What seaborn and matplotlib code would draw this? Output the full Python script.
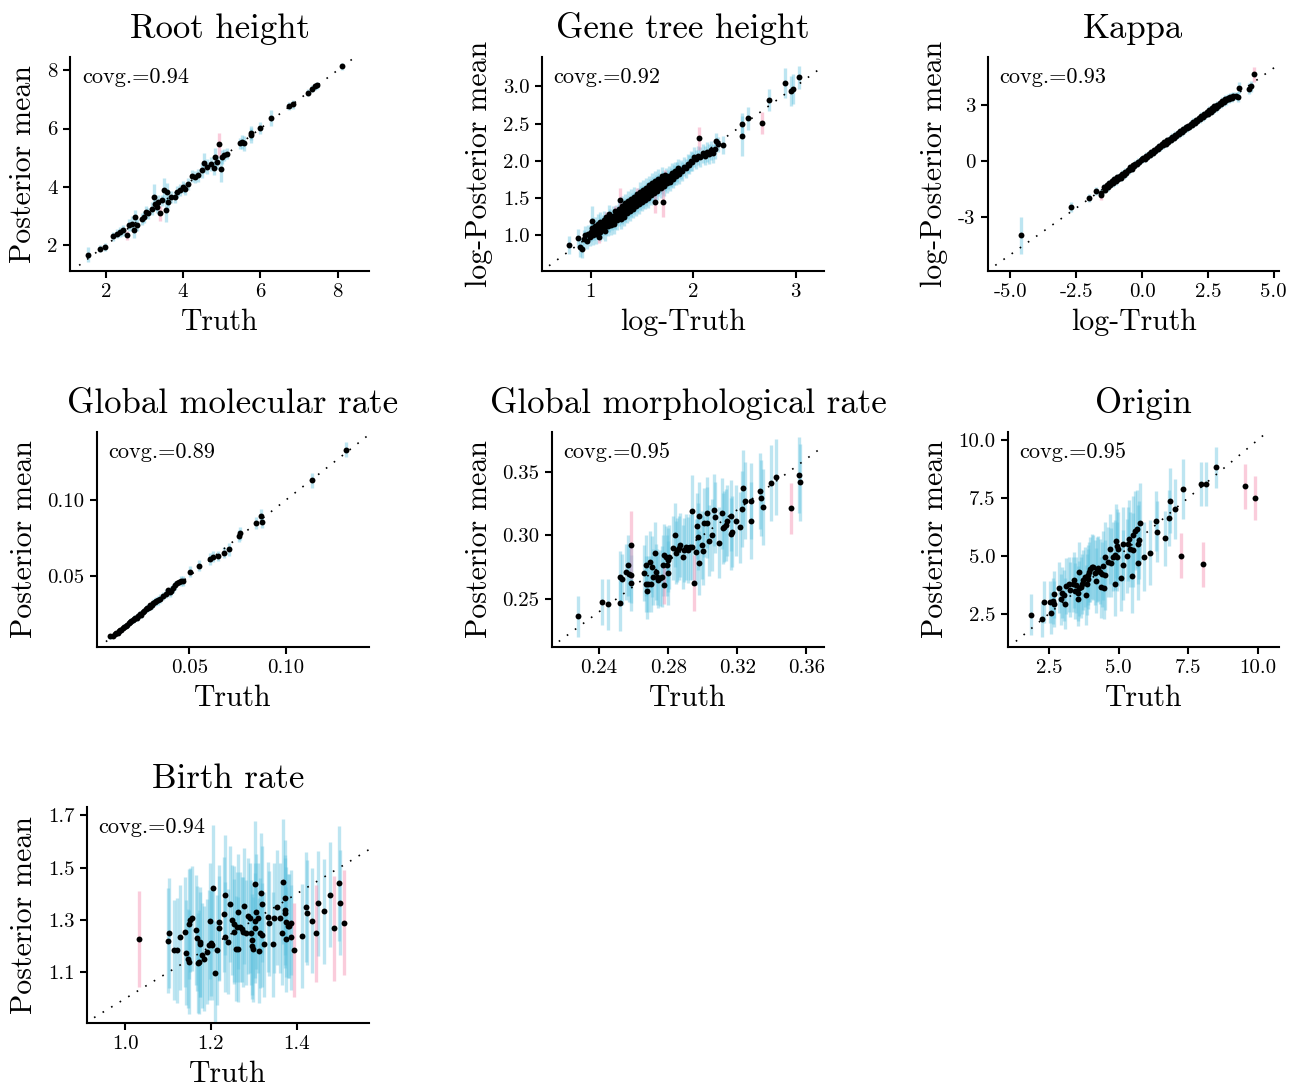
import numpy as np
import pandas as pd
import matplotlib
matplotlib.use("Agg")
import matplotlib.pyplot as plt
import seaborn as sns

# ---------------- data ----------------
# Root height
root_truth = [1.53, 1.84, 1.99, 2.20, 2.28, 2.37, 2.46, 2.54, 2.61, 2.69,
              2.72, 2.76, 2.80, 2.93, 2.99, 3.03, 3.10, 3.19, 3.25, 3.28,
              3.32, 3.36, 3.41, 3.45, 3.52, 3.55, 3.58, 3.62, 3.68, 3.79,
              3.84, 3.92, 4.01, 4.05, 4.14, 4.22, 4.31, 4.40, 4.48, 4.53,
              4.61, 4.72, 4.80, 4.83, 4.87, 4.94, 4.97, 5.00, 5.06, 5.15,
              5.47, 5.53, 5.58, 5.75, 5.77, 5.99, 6.28, 6.75, 6.84, 7.22,
              7.33, 7.41, 7.47, 8.12]
root_mean = [1.68, 1.89, 1.94, 2.31, 2.40, 2.46, 2.51, 2.34, 2.69, 2.74,
             2.51, 2.97, 2.69, 2.91, 2.97, 3.14, 3.09, 3.26, 3.66, 3.41,
             3.31, 3.49, 3.09, 3.54, 3.89, 3.20, 3.83, 3.49, 3.66, 3.66,
             3.83, 3.89, 4.00, 3.94, 4.11, 4.37, 4.34, 4.40, 4.57, 4.82,
             4.69, 4.78, 4.65, 5.03, 4.86, 5.46, 4.61, 5.03, 5.09, 5.14,
             5.49, 5.54, 5.49, 5.77, 5.85, 6.02, 6.37, 6.77, 6.83, 7.22,
             7.37, 7.45, 7.49, 8.14]
root_err = [0.26, 0.12, 0.14, 0.15, 0.15, 0.18, 0.18, 0.15, 0.20, 0.25,
            0.25, 0.25, 0.20, 0.20, 0.20, 0.20, 0.20, 0.22, 0.45, 0.20,
            0.22, 0.22, 0.25, 0.20, 0.40, 0.40, 0.30, 0.20, 0.20, 0.20,
            0.20, 0.20, 0.20, 0.20, 0.20, 0.20, 0.22, 0.22, 0.25, 0.35,
            0.25, 0.25, 0.25, 0.30, 0.25, 0.40, 0.45, 0.25, 0.20, 0.20,
            0.20, 0.25, 0.25, 0.25, 0.25, 0.20, 0.27, 0.15, 0.15, 0.12,
            0.12, 0.12, 0.12, 0.12]

# Gene tree height (log scale values)
gene_truth = [0.79, 0.87, 0.89, 0.91, 1.01, 2.06, 2.22, 2.24, 2.29, 2.48,
              2.48, 2.53, 2.67, 2.74, 2.90, 2.95, 2.97, 3.03, 1.63, 1.70,
              1.28,
              0.93, 0.94, 0.96, 0.97,
              0.99, 1.00, 1.01, 1.02, 1.03, 1.04, 1.05, 1.06, 1.07,
              1.08, 1.09, 1.10, 1.09, 1.11, 1.12, 1.13,
              1.14, 1.15, 1.16, 1.15, 1.17, 1.18, 1.19, 1.18, 1.20, 1.21, 1.22,
              1.23, 1.24, 1.25, 1.24, 1.26, 1.27, 1.28, 1.27,
              1.29, 1.30, 1.31, 1.30, 1.32, 1.33, 1.34, 1.33,
              1.35, 1.36, 1.37, 1.36, 1.38, 1.39, 1.40, 1.39,
              1.41, 1.42, 1.43, 1.42, 1.44, 1.45, 1.46, 1.45,
              1.47, 1.48, 1.49, 1.48, 1.50, 1.51, 1.52, 1.51,
              1.53, 1.54, 1.55, 1.54, 1.56, 1.57, 1.58, 1.57,
              1.59, 1.60, 1.61, 1.60, 1.62, 1.63, 1.64, 1.63,
              1.65, 1.66, 1.67, 1.66, 1.68, 1.69, 1.70, 1.69,
              1.71, 1.72, 1.73, 1.72,
              1.74, 1.75, 1.76, 1.77, 1.78, 1.79, 1.80, 1.81, 1.82, 1.83, 1.84, 1.85,
              1.86, 1.88, 1.89, 1.91, 1.93, 1.95, 1.96, 1.98, 1.99, 2.01,
              2.03, 2.05, 2.07, 2.09, 2.11, 2.13, 2.15, 2.17, 2.19, 2.21]
gene_mean = [0.87, 0.96, 0.84, 0.82, 1.19, 2.30, 2.27, 2.22, 2.21, 2.49,
             2.33, 2.57, 2.51, 2.82, 3.04, 2.94, 2.96, 3.12, 1.45, 1.45,
             1.48,
             0.95, 1.00, 0.93, 1.02,
             0.98, 1.05, 1.10, 1.00, 1.07, 1.12, 1.02, 1.08, 1.15,
             0.98, 1.05, 1.12, 1.18, 1.08, 1.14, 1.20,
             1.06, 1.13, 1.18, 1.24, 1.12, 1.17, 1.23, 1.28, 1.14, 1.20, 1.26,
             1.15, 1.22, 1.28, 1.33, 1.20, 1.26, 1.31, 1.36,
             1.22, 1.28, 1.34, 1.40, 1.25, 1.31, 1.37, 1.43,
             1.30, 1.35, 1.40, 1.46, 1.32, 1.38, 1.44, 1.49,
             1.36, 1.41, 1.47, 1.52, 1.39, 1.44, 1.50, 1.56,
             1.42, 1.47, 1.53, 1.58, 1.45, 1.50, 1.55, 1.61,
             1.48, 1.53, 1.58, 1.64, 1.50, 1.56, 1.62, 1.67,
             1.54, 1.59, 1.65, 1.70, 1.57, 1.62, 1.68, 1.73,
             1.60, 1.66, 1.71, 1.76, 1.63, 1.68, 1.74, 1.79,
             1.66, 1.72, 1.77, 1.81,
             1.70, 1.75, 1.80, 1.72, 1.78, 1.84, 1.76, 1.81, 1.86, 1.80, 1.85, 1.90,
             1.82, 1.88, 1.86, 1.92, 1.90, 1.96, 1.95, 2.00, 1.99, 2.05,
             2.02, 2.07, 2.05, 2.10, 2.07, 2.12, 2.09, 2.14, 2.10, 2.16]
gene_err = [0.12, 0.12, 0.13, 0.13, 0.20, 0.15, 0.10, 0.10, 0.12, 0.15,
            0.27, 0.15, 0.15, 0.15, 0.20, 0.20, 0.20, 0.15, 0.15, 0.20,
            0.15,
            0.12, 0.12, 0.12, 0.12,
            0.13, 0.13, 0.13, 0.13, 0.13, 0.13, 0.13, 0.13, 0.13,
            0.08, 0.13, 0.13, 0.13, 0.13, 0.13, 0.13,
            0.13, 0.13, 0.13, 0.07, 0.13, 0.13, 0.13, 0.13, 0.13, 0.13, 0.13,
            0.13, 0.13, 0.13, 0.07, 0.13, 0.13, 0.13, 0.13,
            0.13, 0.13, 0.13, 0.13, 0.13, 0.13, 0.13, 0.13,
            0.13, 0.13, 0.13, 0.13, 0.13, 0.13, 0.13, 0.13,
            0.13, 0.13, 0.13, 0.13, 0.13, 0.13, 0.13, 0.08,
            0.13, 0.13, 0.13, 0.13, 0.13, 0.13, 0.13, 0.13,
            0.13, 0.13, 0.13, 0.13, 0.13, 0.13, 0.13, 0.13,
            0.13, 0.13, 0.13, 0.13, 0.13, 0.13, 0.13, 0.13,
            0.13, 0.13, 0.13, 0.13, 0.13, 0.13, 0.13, 0.13,
            0.13, 0.13, 0.13, 0.07,
            0.13, 0.13, 0.13, 0.13, 0.13, 0.13, 0.13, 0.13, 0.13, 0.13, 0.13, 0.13,
            0.13, 0.13, 0.13, 0.13, 0.13, 0.13, 0.13, 0.13, 0.13, 0.13,
            0.13, 0.13, 0.13, 0.13, 0.13, 0.13, 0.13, 0.13, 0.13, 0.13]

# Kappa (log scale values)
kappa_truth = [-4.60, -2.70, -2.00, -1.74, -1.57, -1.55,
               -1.45, -1.40, -1.35, -1.30, -1.25, -1.20, -1.15, -1.10, -1.05, -1.00,
               -0.95, -0.90, -0.85, -0.80, -0.75, -0.70, -0.65, -0.60, -0.55, -0.50,
               -0.45, -0.40, -0.35, -0.30, -0.25, -0.20, -0.15, -0.10, -0.05, 0.00,
               0.05, 0.10, 0.15, 0.20, 0.25, 0.30, 0.35, 0.40, 0.45, 0.50,
               0.55, 0.60, 0.65, 0.70, 0.75, 0.80, 0.85, 0.90, 0.95, 1.00,
               1.05, 1.10, 1.15, 1.20, 1.25, 1.30, 1.35, 1.40, 1.45, 1.50,
               1.55, 1.60, 1.65, 1.70, 1.75, 1.80, 1.85, 1.90, 1.95, 2.00,
               2.05, 2.10, 2.15, 2.20, 2.25, 2.30, 2.35, 2.40, 2.45, 2.50,
               2.55, 2.60, 2.65, 2.70, 2.75, 2.80, 2.85, 2.90, 2.95, 3.00,
               3.05, 3.10, 3.15, 3.20, 3.25, 3.30, 3.35, 3.40, 3.45, 3.55,
               3.65, 3.69, 4.07, 4.12, 4.24]
kappa_mean = [-3.96, -2.45, -1.95, -1.59, -1.70, -1.82,
              -1.38, -1.52, -1.28, -1.40, -1.18, -1.28, -1.06, -1.18, -0.96, -1.08,
              -0.86, -0.95, -0.78, -0.88, -0.66, -0.74, -0.56, -0.64, -0.46, -0.48,
              -0.33, -0.40, -0.22, -0.25, -0.12, -0.15, -0.02, -0.03, 0.08, 0.10,
              0.18, 0.15, 0.30, 0.25, 0.40, 0.35, 0.50, 0.45, 0.62, 0.58,
              0.70, 0.66, 0.82, 0.76, 0.92, 0.86, 1.02, 0.95, 1.12, 1.06,
              1.22, 1.15, 1.32, 1.25, 1.42, 1.36, 1.52, 1.45, 1.62, 1.55,
              1.72, 1.66, 1.82, 1.76, 1.92, 1.85, 2.02, 1.96, 2.12, 2.05,
              2.22, 2.16, 2.32, 2.25, 2.42, 2.36, 2.52, 2.46, 2.62, 2.56,
              2.74, 2.66, 2.84, 2.76, 2.94, 2.86, 3.04, 2.96, 3.14, 3.06,
              3.24, 3.16, 3.32, 3.26, 3.40, 3.35, 3.46, 3.42, 3.50, 3.52,
              3.45, 3.95, 3.89, 4.02, 4.66]
kappa_err = [1.00, 0.25, 0.22, 0.20, 0.20, 0.25,
             0.18, 0.18, 0.18, 0.18, 0.18, 0.05, 0.18, 0.18, 0.18, 0.18,
             0.18, 0.18, 0.18, 0.18, 0.18, 0.18, 0.18, 0.18, 0.18, 0.18,
             0.18, 0.18, 0.10, 0.18, 0.18, 0.18, 0.18, 0.18, 0.18, 0.18,
             0.18, 0.18, 0.18, 0.18, 0.18, 0.18, 0.18, 0.18, 0.10, 0.18,
             0.18, 0.18, 0.18, 0.18, 0.18, 0.18, 0.18, 0.18, 0.18, 0.18,
             0.18, 0.18, 0.18, 0.18, 0.18, 0.18, 0.18, 0.18, 0.18, 0.18,
             0.18, 0.18, 0.18, 0.18, 0.12, 0.18, 0.18, 0.18, 0.18, 0.18,
             0.18, 0.18, 0.18, 0.18, 0.20, 0.20, 0.20, 0.20, 0.20, 0.20,
             0.20, 0.20, 0.20, 0.20, 0.20, 0.20, 0.20, 0.20, 0.15, 0.20,
             0.22, 0.22, 0.22, 0.22, 0.22, 0.22, 0.22, 0.22, 0.22, 0.22,
             0.25, 0.30, 0.30, 0.30, 0.40]

# Global molecular rate
mol_truth = [0.0093, 0.0105, 0.0115, 0.0122, 0.0130, 0.0138, 0.0145, 0.0150, 0.0158, 0.0165,
             0.0172, 0.0180, 0.0188, 0.0195, 0.0200, 0.0208, 0.0215, 0.0222, 0.0230, 0.0238,
             0.0245, 0.0252, 0.0260, 0.0268, 0.0275, 0.0282, 0.0288, 0.0295, 0.0300, 0.0308,
             0.0315, 0.0322, 0.0330, 0.0338, 0.0350, 0.0365, 0.0380, 0.0392, 0.0400, 0.0408,
             0.0418, 0.0428, 0.0438, 0.0448, 0.0460, 0.0470, 0.0502, 0.0552, 0.0605, 0.0622,
             0.0648, 0.0677, 0.0703, 0.0758, 0.0760, 0.0845, 0.0871, 0.0875, 0.1136, 0.1308]
mol_mean = [0.0105, 0.0110, 0.0118, 0.0125, 0.0128, 0.0140, 0.0148, 0.0146, 0.0160, 0.0168,
            0.0175, 0.0178, 0.0195, 0.0200, 0.0205, 0.0212, 0.0220, 0.0228, 0.0225, 0.0240,
            0.0250, 0.0248, 0.0265, 0.0272, 0.0285, 0.0290, 0.0292, 0.0300, 0.0312, 0.0310,
            0.0322, 0.0330, 0.0335, 0.0340, 0.0352, 0.0370, 0.0385, 0.0408, 0.0395, 0.0405,
            0.0420, 0.0440, 0.0455, 0.0462, 0.0465, 0.0465, 0.0529, 0.0568, 0.0612, 0.0627,
            0.0632, 0.0654, 0.0675, 0.0763, 0.0780, 0.0846, 0.0895, 0.0857, 0.1127, 0.1329]
mol_err = [0.0015, 0.0012, 0.0012, 0.0013, 0.0013, 0.0014, 0.0014, 0.0015, 0.0015, 0.0016,
           0.0016, 0.0017, 0.0005, 0.0018, 0.0018, 0.0018, 0.0019, 0.0019, 0.0020, 0.0020,
           0.0021, 0.0021, 0.0022, 0.0022, 0.0008, 0.0023, 0.0024, 0.0024, 0.0009, 0.0025,
           0.0026, 0.0026, 0.0027, 0.0027, 0.0028, 0.0028, 0.0029, 0.0012, 0.0030, 0.0030,
           0.0031, 0.0031, 0.0013, 0.0012, 0.0033, 0.0033, 0.0035, 0.0035, 0.0040, 0.0035,
           0.0035, 0.0035, 0.0040, 0.0040, 0.0040, 0.0040, 0.0045, 0.0040, 0.0050, 0.0050]

# Global morphological rate
morph_truth = [0.2275, 0.2419, 0.2454, 0.2521, 0.2521, 0.2535, 0.2554, 0.2569, 0.2573, 0.2583,
               0.2585, 0.2583, 0.2662, 0.2672, 0.2672, 0.2675, 0.2685, 0.2695, 0.2699, 0.2708,
               0.2714, 0.2724, 0.2729, 0.2737, 0.2743, 0.2752, 0.2762, 0.2772, 0.2776, 0.2778,
               0.2787, 0.2791, 0.2797, 0.2801, 0.2806, 0.2829, 0.2841, 0.2845, 0.2853, 0.2864,
               0.2868, 0.2883, 0.2891, 0.2903, 0.2916, 0.2926, 0.2935, 0.2939, 0.2951, 0.2960,
               0.2968, 0.2974, 0.2976, 0.2980, 0.2993, 0.2999, 0.3007, 0.3022, 0.3022, 0.3038,
               0.3051, 0.3066, 0.3072, 0.3095, 0.3113, 0.3115, 0.3124, 0.3132, 0.3142, 0.3163,
               0.3163, 0.3170, 0.3195, 0.3215, 0.3226, 0.3234, 0.3247, 0.3282, 0.3282, 0.3330,
               0.3340, 0.3346, 0.3398, 0.3423, 0.3513, 0.3558, 0.3561]
morph_mean = [0.2365, 0.2478, 0.2459, 0.2465, 0.2675, 0.2654, 0.2714, 0.2766, 0.2693, 0.2627,
              0.2924, 0.2688, 0.2701, 0.2766, 0.2617, 0.2564, 0.2617, 0.2793, 0.2617, 0.2753,
              0.2675, 0.2864, 0.2714, 0.2675, 0.2648, 0.2661, 0.2675, 0.2766, 0.2845, 0.2609,
              0.2832, 0.2766, 0.2806, 0.2706, 0.2832, 0.2898, 0.3003, 0.2864, 0.2885, 0.2898,
              0.2924, 0.2827, 0.2885, 0.2906, 0.2885, 0.2911, 0.2911, 0.3192, 0.2627, 0.2866,
              0.3076, 0.2990, 0.2780, 0.3152, 0.2924, 0.2879, 0.3100, 0.3178, 0.3100, 0.2958,
              0.3003, 0.3199, 0.3142, 0.2942, 0.3173, 0.3055, 0.3068, 0.3081, 0.3115, 0.3155,
              0.3010, 0.3029, 0.3115, 0.3063, 0.3207, 0.3370, 0.3273, 0.3270, 0.3115, 0.3349,
              0.3291, 0.3220, 0.3409, 0.3457, 0.3213, 0.3472, 0.3415]
morph_err = [0.016, 0.018, 0.020, 0.022, 0.020, 0.020, 0.022, 0.024, 0.022, 0.022,
             0.027, 0.022, 0.022, 0.024, 0.022, 0.022, 0.022, 0.024, 0.022, 0.024,
             0.022, 0.024, 0.022, 0.022, 0.022, 0.022, 0.024, 0.024, 0.024, 0.015,
             0.024, 0.024, 0.025, 0.025, 0.025, 0.025, 0.025, 0.025, 0.025, 0.025,
             0.025, 0.025, 0.025, 0.026, 0.026, 0.026, 0.026, 0.028, 0.022, 0.026,
             0.026, 0.026, 0.025, 0.027, 0.027, 0.027, 0.027, 0.028, 0.028, 0.028,
             0.028, 0.028, 0.028, 0.028, 0.028, 0.028, 0.028, 0.028, 0.028, 0.028,
             0.028, 0.028, 0.028, 0.028, 0.030, 0.030, 0.030, 0.030, 0.030, 0.030,
             0.030, 0.030, 0.030, 0.030, 0.020, 0.030, 0.030]

# Origin
origin_truth = [1.85, 2.24, 2.30, 2.54, 2.56, 2.64, 2.66, 2.66, 2.86, 2.92,
                2.98, 3.02, 3.07, 3.10, 3.20, 3.26, 3.34, 3.40, 3.44, 3.46,
                3.53, 3.55, 3.58, 3.59, 3.64, 3.67, 3.73, 3.79, 3.83, 3.85,
                3.88, 3.91, 3.94, 3.97, 4.03, 4.09, 4.13, 4.19, 4.21, 4.27,
                4.31, 4.39, 4.36, 4.43, 4.47, 4.51, 4.51, 4.63, 4.67, 4.73,
                4.78, 4.87, 4.87, 4.90, 4.93, 4.95, 4.99, 5.07, 5.14, 5.14,
                5.29, 5.35, 5.38, 5.41, 5.47, 5.50, 5.53, 5.59, 5.64, 5.68,
                5.70, 5.74, 5.76, 5.91, 6.12, 6.34, 6.36, 6.66, 6.82, 6.84,
                7.03, 7.23, 7.32, 7.97, 8.03, 8.15, 8.51, 9.53, 9.91]
origin_mean = [2.46, 2.26, 3.01, 3.01, 2.53, 3.05, 3.33, 2.91, 3.62, 3.12,
               3.41, 3.30, 2.92, 3.70, 3.76, 3.54, 3.76, 3.95, 3.49, 3.73,
               3.37, 3.15, 4.28, 3.59, 3.63, 3.77, 3.95, 4.09, 3.30, 3.76,
               3.98, 4.16, 4.31, 4.41, 4.52, 4.50, 4.26, 3.92, 4.41, 4.45,
               4.31, 4.19, 3.63, 4.57, 3.59, 4.16, 4.96, 4.74, 5.29, 4.70,
               4.96, 5.03, 3.80, 5.63, 5.42, 4.96, 5.29, 4.02, 5.49, 4.60,
               5.00, 5.49, 5.71, 5.27, 4.13, 5.24, 5.89, 6.08, 6.15, 4.67,
               5.49, 5.68, 6.43, 4.96, 5.13, 6.51, 6.04, 5.75, 6.62, 7.38,
               7.02, 4.99, 7.87, 8.09, 4.64, 8.09, 8.81, 7.99, 7.50]
origin_err = [0.87, 0.75, 0.90, 0.90, 0.90, 1.00, 1.00, 1.00, 1.10, 1.10,
              1.10, 1.10, 1.10, 1.20, 1.20, 1.20, 1.20, 1.20, 1.20, 1.20,
              1.20, 1.20, 1.30, 1.20, 1.30, 1.30, 1.30, 1.30, 1.30, 1.30,
              1.30, 1.30, 1.30, 1.40, 1.40, 1.40, 1.40, 1.40, 1.40, 1.40,
              1.40, 1.40, 1.30, 1.50, 1.30, 1.50, 1.50, 1.50, 1.50, 1.50,
              1.50, 1.50, 1.40, 1.60, 1.60, 1.50, 1.60, 1.40, 1.60, 1.50,
              1.60, 1.60, 1.70, 1.60, 1.60, 1.60, 1.70, 1.70, 1.70, 1.60,
              1.70, 1.70, 1.70, 1.50, 1.40, 1.30, 1.30, 1.20, 1.20, 1.40,
              1.30, 0.97, 1.30, 0.95, 0.97, 0.95, 0.90, 0.96, 0.94]

# Birth rate
birth_truth = [1.0315, 1.100, 1.103, 1.113, 1.121, 1.127, 1.140, 1.142, 1.146, 1.148,
               1.148, 1.152, 1.156, 1.165, 1.167, 1.170, 1.173, 1.174, 1.175, 1.179,
               1.184, 1.191, 1.195, 1.197, 1.200, 1.202, 1.206, 1.210, 1.214, 1.218,
               1.218, 1.230, 1.232, 1.232, 1.241, 1.245, 1.249, 1.253, 1.255, 1.258,
               1.261, 1.263, 1.264, 1.267, 1.272, 1.276, 1.278, 1.282, 1.286, 1.292,
               1.293, 1.296, 1.297, 1.299, 1.302, 1.303, 1.303, 1.306, 1.311, 1.313,
               1.315, 1.317, 1.319, 1.320, 1.323, 1.334, 1.336, 1.345, 1.348, 1.354,
               1.362, 1.365, 1.369, 1.372, 1.373, 1.373, 1.375, 1.376, 1.379, 1.383,
               1.386, 1.387, 1.393, 1.412, 1.422, 1.425, 1.435, 1.445, 1.451, 1.463,
               1.478, 1.487, 1.500, 1.501, 1.511]
birth_mean = [1.227, 1.221, 1.249, 1.185, 1.185, 1.234, 1.255, 1.175, 1.153, 1.140,
              1.285, 1.300, 1.306, 1.262, 1.230, 1.137, 1.140, 1.217, 1.207, 1.166,
              1.153, 1.179, 1.204, 1.296, 1.211, 1.204, 1.421, 1.098, 1.185, 1.291,
              1.268, 1.322, 1.396, 1.236, 1.217, 1.361, 1.300, 1.255, 1.285, 1.191,
              1.274, 1.332, 1.188, 1.272, 1.264, 1.255, 1.354, 1.251, 1.315, 1.306,
              1.251, 1.223, 1.200, 1.188, 1.297, 1.268, 1.438, 1.332, 1.306, 1.183,
              1.251, 1.402, 1.243, 1.361, 1.208, 1.313, 1.287, 1.208, 1.306, 1.348,
              1.306, 1.251, 1.447, 1.338, 1.386, 1.328, 1.226, 1.294, 1.277, 1.277,
              1.290, 1.234, 1.185, 1.239, 1.351, 1.328, 1.297, 1.249, 1.364, 1.334,
              1.396, 1.268, 1.440, 1.366, 1.290]
birth_err = [0.183, 0.20, 0.21, 0.19, 0.20, 0.20, 0.21, 0.20, 0.19, 0.20,
             0.21, 0.20, 0.20, 0.21, 0.20, 0.19, 0.20, 0.21, 0.20, 0.20,
             0.20, 0.20, 0.21, 0.22, 0.20, 0.21, 0.24, 0.20, 0.21, 0.22,
             0.20, 0.22, 0.23, 0.21, 0.20, 0.22, 0.21, 0.20, 0.22, 0.20,
             0.21, 0.22, 0.20, 0.21, 0.20, 0.21, 0.22, 0.20, 0.22, 0.21,
             0.20, 0.21, 0.20, 0.20, 0.22, 0.21, 0.24, 0.22, 0.21, 0.20,
             0.21, 0.23, 0.20, 0.22, 0.20, 0.21, 0.20, 0.20, 0.21, 0.22,
             0.21, 0.20, 0.24, 0.21, 0.22, 0.21, 0.20, 0.21, 0.20, 0.20,
             0.20, 0.20, 0.18, 0.20, 0.21, 0.20, 0.20, 0.185, 0.20, 0.20,
             0.20, 0.20, 0.22, 0.20, 0.20]

titles = ["Root height", "Gene tree height", "Kappa", "Global molecular rate",
          "Global morphological rate", "Origin", "Birth rate"]
coverage = ["0.94", "0.92", "0.93", "0.89", "0.95", "0.95", "0.94"]
xlabels = ["Truth", "log-Truth", "log-Truth", "Truth", "Truth", "Truth", "Truth"]
ylabels = ["Posterior mean", "log-Posterior mean", "log-Posterior mean", "Posterior mean",
           "Posterior mean", "Posterior mean", "Posterior mean"]

# ---------------- layout / styling ----------------
W, H = 1299, 1088
# axes boxes in pixels: left, top, right, bottom
AX_BOXES = [(70, 57, 369, 271), (542, 57, 824, 271), (988, 57, 1279, 271),
            (97, 432, 369, 647), (552, 432, 824, 647), (1008, 432, 1279, 647),
            (87, 807, 369, 1023)]
XLIMS = [(1.077, 8.81), (0.523, 3.276), (-5.85, 5.2), (0.0024, 0.1428),
         (0.2127, 0.3702), (1.023, 10.757), (0.911, 1.569)]
YLIMS = [(1.12, 8.45), (0.521, 3.394), (-5.875, 5.59), (0.0035, 0.1445),
         (0.2123, 0.3811), (1.062, 10.337), (0.907, 1.7315)]
XTICKS = [[2, 4, 6, 8], [1, 2, 3], [-5, -2.5, 0, 2.5, 5], [0.05, 0.10],
          [0.24, 0.28, 0.32, 0.36], [2.5, 5, 7.5, 10], [1.0, 1.2, 1.4]]
YTICKS = [[2, 4, 6, 8], [1.0, 1.5, 2.0, 2.5, 3.0], [-3, 0, 3], [0.05, 0.10],
          [0.25, 0.30, 0.35], [2.5, 5, 7.5, 10], [1.1, 1.3, 1.5, 1.7]]

BLUE = "#5bc0de"
PINK = "#f48fb1"

sns.set_style("ticks")
plt.rcParams["font.family"] = ["cmr10", "DejaVu Serif"]
plt.rcParams["mathtext.fontset"] = "cm"
plt.rcParams["axes.unicode_minus"] = False
plt.rcParams["text.color"] = "black"
plt.rcParams["axes.labelcolor"] = "black"
plt.rcParams["axes.linewidth"] = 1.5
plt.rcParams["axes.edgecolor"] = "black"
plt.rcParams["xtick.major.width"] = 1.5
plt.rcParams["ytick.major.width"] = 1.5
plt.rcParams["xtick.major.size"] = 5
plt.rcParams["ytick.major.size"] = 5
plt.rcParams["xtick.color"] = "black"
plt.rcParams["ytick.color"] = "black"


def draw_panel(ax, truth, mean, err, i):
    df = pd.DataFrame({"truth": truth, "mean": mean, "err": err})
    df["lo"] = df["mean"] - df["err"]
    df["hi"] = df["mean"] + df["err"]
    df["covered"] = (df["lo"] <= df["truth"]) & (df["truth"] <= df["hi"])
    inside = df[df["covered"]]
    outside = df[~df["covered"]]

    ax.vlines(inside["truth"], inside["lo"], inside["hi"], color=BLUE, alpha=0.4, lw=2.4, zorder=1)
    ax.vlines(outside["truth"], outside["lo"], outside["hi"], color=PINK, alpha=0.45, lw=2.4, zorder=1)

    x0, x1 = XLIMS[i]
    y0, y1 = YLIMS[i]
    start = max(x0, y0) + 0.025 * (x1 - x0)
    end = min(x1, y1)
    ax.plot([start, end], [start, end], ls=(0, (1, 5)), color="black", lw=1.2, zorder=2)

    sns.scatterplot(data=df, x="truth", y="mean", color="black", s=18, linewidth=0,
                    ax=ax, zorder=3, legend=False)

    ax.set_xlim(x0, x1)
    ax.set_ylim(y0, y1)
    ax.set_xticks(XTICKS[i])
    ax.set_yticks(YTICKS[i])
    ax.tick_params(labelsize=15, pad=4)
    ax.set_title(titles[i], fontsize=25, pad=14)
    ax.set_xlabel(xlabels[i], fontsize=21.5, labelpad=5.5)
    ax.set_ylabel(ylabels[i], fontsize=21.5, labelpad=7)
    ax.text(0.04, 0.95, "covg.=" + coverage[i], transform=ax.transAxes,
            ha="left", va="top", fontsize=16)
    sns.despine(ax=ax)


fig = plt.figure(figsize=(W / 100, H / 100), dpi=100)
series = [(root_truth, root_mean, root_err), (gene_truth, gene_mean, gene_err),
          (kappa_truth, kappa_mean, kappa_err), (mol_truth, mol_mean, mol_err),
          (morph_truth, morph_mean, morph_err), (origin_truth, origin_mean, origin_err),
          (birth_truth, birth_mean, birth_err)]
for i, (t, m, e) in enumerate(series):
    l, top, r, b = AX_BOXES[i]
    ax = fig.add_axes([l / W, 1 - b / H, (r - l) / W, (b - top) / H])
    draw_panel(ax, t, m, e, i)

fig.savefig("out.png", dpi=100)
